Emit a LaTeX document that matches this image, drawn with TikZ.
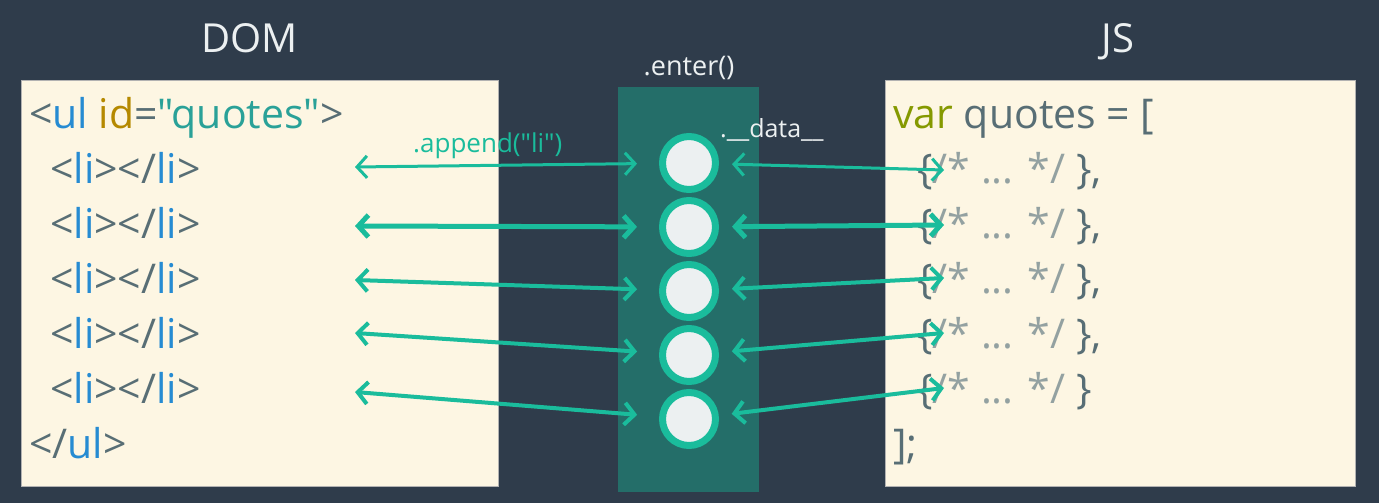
\documentclass[tikz,border=0pt]{standalone}
\usepackage{fontspec}
\setmainfont{Open Sans}
\newfontfamily\codefont{Open Sans}
\usetikzlibrary{arrows.meta}

\definecolor{bgdark}{HTML}{2F3C4B}
\definecolor{paper}{HTML}{FDF6E3}
\definecolor{teal}{HTML}{246E69}
\definecolor{turq}{HTML}{1ABC9C}
\definecolor{clouds}{HTML}{ECF0F1}
\definecolor{sgray}{HTML}{586E75}
\definecolor{slight}{HTML}{93A1A1}
\definecolor{sblue}{HTML}{268BD2}
\definecolor{syellow}{HTML}{B58900}
\definecolor{scyan}{HTML}{2AA198}
\definecolor{sgreen}{HTML}{859900}

\tikzset{
  code/.style={anchor=base west, inner sep=0pt, text=sgray, font=\codefont\fontsize{41}{41}\selectfont},
  title/.style={anchor=base, inner sep=0pt, text=clouds, font=\codefont\fontsize{40}{40}\selectfont},
  dot/.style={circle, draw=turq, fill=clouds, line width=7pt, minimum size=53pt, inner sep=0pt},
  link/.style={draw=turq, {Straight Barb[length=10pt,width=22pt]}-{Straight Barb[length=10pt,width=22pt]}},
}

\begin{document}
\begin{tikzpicture}[x=1pt, y=-1pt]
    \useasboundingbox (0, 0) rectangle (1379, 503);
    \fill[bgdark] (0, 0) rectangle (1379, 503);

    % boxes
    \fill[paper, draw=gray!60] (21, 80) rectangle (498, 486);
    \fill[paper, draw=gray!60] (885, 80) rectangle (1355, 486);
    \fill[teal] (618, 87) rectangle (759, 492);

    \node[title] (dom) at (249.5, 53) {DOM};
    \node[title] (js) at (1118, 53) {JS};
    \node[title, font=\codefont\fontsize{27}{27}\selectfont] (enter) at (689, 75) {.enter()};

    % DOM side
    \node[code] (ul) at (29, 128) {<\textcolor{sblue}{ul} \textcolor{syellow}{id}=\textcolor{scyan}{"quotes"}>};
    \foreach \i in {1,...,5}
        \node[code] (li\i) at (50, 128 + 55*\i) {<\textcolor{sblue}{li}></\textcolor{sblue}{li}>};
    \node[code] (ulend) at (29, 458) {</\textcolor{sblue}{ul}>};

    % JS side
    \node[code] (var) at (893, 128) {\textcolor{sgreen}{var} quotes = [};
    \foreach \i in {1,...,4}
        \node[code] (obj\i) at (917, 128 + 55*\i) {\{\textcolor{slight}{/* ... */} \},};
    \node[code] (obj5) at (917, 403) {\{\textcolor{slight}{/* ... */} \}};
    \node[code] (arrend) at (893, 458) {];};

    % placeholders and links
    \foreach \i/\ly/\ry/\w in {1/167/170/3, 2/226/225/5, 3/280/278/4, 4/333/333/4, 5/392/388/4} {
        \node[dot] (c\i) at (689, 163 + 64*\i - 64) {};
        \coordinate (l\i) at (355, \ly);
        \coordinate (r\i) at (944, \ry);
        \draw[link, line width=\w pt, shorten >=22pt] (l\i) -- (c\i);
        \draw[link, line width=\w pt, shorten <=13pt] (c\i) -- (r\i);
    }

    \node[anchor=base west, inner sep=0pt, text=turq, font=\codefont\fontsize{26}{26}\selectfont] (append) at (413, 152) {.append("li")};
    \node[anchor=base west, inner sep=0pt, text=clouds, font=\codefont\fontsize{25}{25}\selectfont] (data) at (720, 137) {.\_\_data\_\_};
\end{tikzpicture}
\end{document}
